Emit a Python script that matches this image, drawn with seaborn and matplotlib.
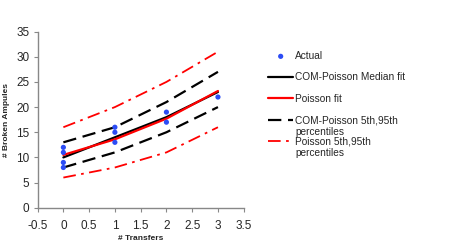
import numpy as np
import pandas as pd
import matplotlib
matplotlib.use("Agg")
import matplotlib.pyplot as plt
import seaborn as sns

# observed data
actual_x = [0, 0, 0, 0, 1, 1, 1, 2, 2, 3]
actual_y = [8, 9, 11, 12, 13, 15, 16, 17, 19, 22]

# fitted curves
transfers = [0, 1, 2, 3]
com_median = [10, 14, 18, 23]
poisson_fit = [10.5, 13.6, 17.7, 23.2]
com_lower = [8, 11, 15, 20]
com_upper = [13, 16, 21, 27]
poi_lower = [6, 8, 11, 16]
poi_upper = [16, 20, 25, 31]

sns.set_style("white")
plt.rcParams['font.family'] = ['Liberation Sans', 'DejaVu Sans']

fig = plt.figure(figsize=(4.53, 2.43), dpi=100)
ax = fig.add_axes([0.083, 0.145, 0.455, 0.725])

df_act = pd.DataFrame({"x": actual_x, "y": actual_y})
sns.scatterplot(data=df_act, x="x", y="y", ax=ax, color="#2c4cf5", s=14,
                edgecolor="none", label="Actual", zorder=5)

sns.lineplot(x=transfers, y=com_median, ax=ax, color="black", lw=1.6,
             label="COM-Poisson Median fit")
sns.lineplot(x=transfers, y=poisson_fit, ax=ax, color="red", lw=1.6,
             label="Poisson fit")
sns.lineplot(x=transfers, y=com_upper, ax=ax, color="black", lw=1.6,
             label="COM-Poisson 5th,95th")
sns.lineplot(x=transfers, y=com_lower, ax=ax, color="black", lw=1.6)
sns.lineplot(x=transfers, y=poi_upper, ax=ax, color="red", lw=1.3,
             label="Poisson 5th,95th")
sns.lineplot(x=transfers, y=poi_lower, ax=ax, color="red", lw=1.3)

lines = ax.get_lines()
for ln in lines[2:4]:
    ln.set_dashes([6, 3])
for ln in lines[4:6]:
    ln.set_dashes([7, 3, 1.5, 3])

ax.set_xlim(-0.5, 3.5)
ax.set_ylim(0, 35)
ax.set_xticks(np.arange(-0.5, 3.6, 0.5))
ax.set_xticklabels(["-0.5", "0", "0.5", "1", "1.5", "2", "2.5", "3", "3.5"])
ax.set_yticks(range(0, 36, 5))
ax.tick_params(axis="both", labelsize=8.5, length=3, width=0.8,
               color="#888888", direction="out", bottom=True, left=True, pad=3)
ax.tick_params(axis="x", pad=6)
for side in ["top", "right"]:
    ax.spines[side].set_visible(False)
for side in ["left", "bottom"]:
    ax.spines[side].set_color("#888888")
    ax.spines[side].set_linewidth(1.0)

ax.set_xlabel("# Transfers", fontsize=6, fontweight="bold", labelpad=2)
ax.set_ylabel("# Broken Ampules", fontsize=6, fontweight="bold", labelpad=4)

leg = ax.legend(loc="upper left", bbox_to_anchor=(268 / 453, 1 - 51 / 243),
                bbox_transform=fig.transFigure, frameon=False,
                fontsize=7.3, handlelength=2.5, handletextpad=0.2,
                labelspacing=1.12, borderaxespad=0, borderpad=0)

# second line of the two percentile entries, hanging under the first line
fig.canvas.draw()
renderer = fig.canvas.get_renderer()
inv = fig.transFigure.inverted()
for txt in leg.get_texts()[3:5]:
    bb = txt.get_window_extent(renderer)
    x0, yc = inv.transform((bb.x0, (bb.y0 + bb.y1) / 2))
    fig.text(x0, yc - 12 / 243, "percentiles", fontsize=7.3, va="center", ha="left")

fig.savefig("out.png", dpi=100)
